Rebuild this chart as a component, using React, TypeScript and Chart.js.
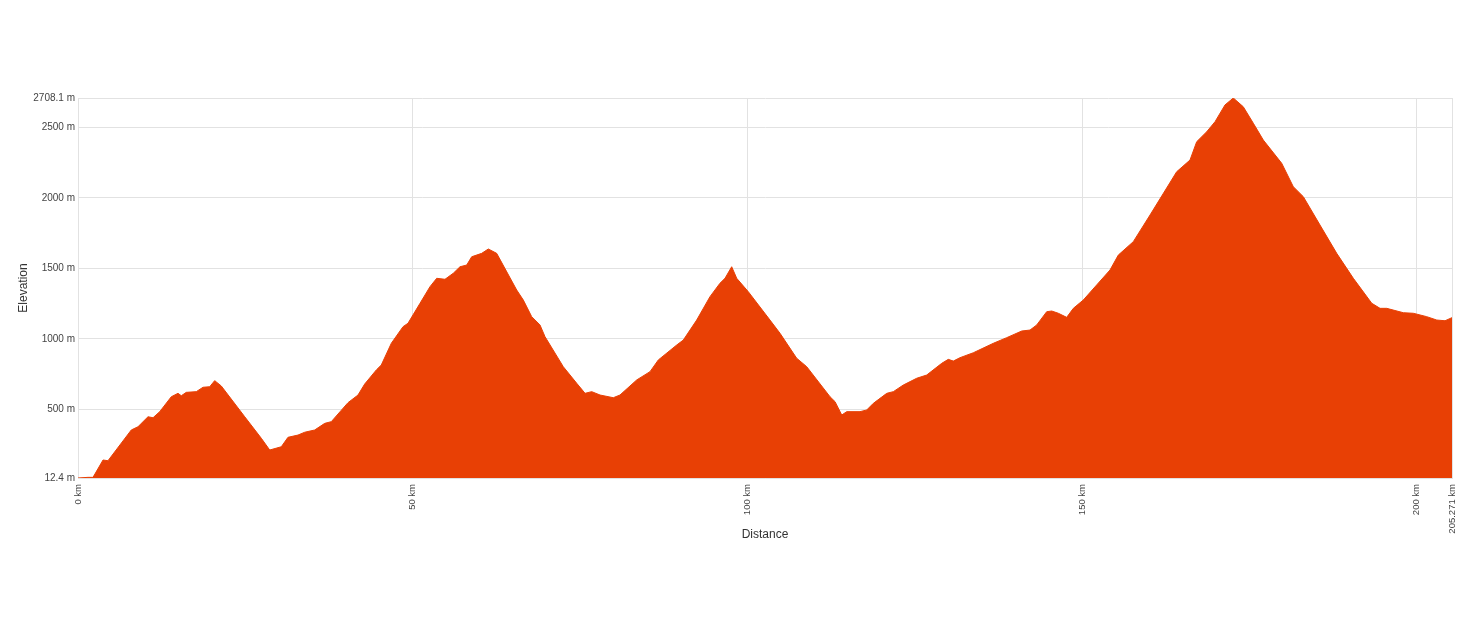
import React, { useEffect, useRef } from "react";
import { Chart, registerables } from "chart.js";

Chart.register(...registerables);

const distanceKm = [
  0, 1.49, 2.24, 3.74, 4.48, 7.96, 8.96, 10.46, 11.21, 12.21,
  13.94, 14.94, 15.43, 16.18, 17.67, 18.68, 19.68, 20.42, 21.41, 24.91,
  27.39, 28.64, 30.37, 31.37, 32.87, 33.87, 35.36, 36.86, 37.84, 40.34,
  41.83, 42.83, 44.57, 45.31, 46.81, 48.56, 49.3, 51.1, 52.59, 53.59,
  54.83, 56.07, 57.07, 58.07, 58.82, 60.31, 61.3, 62.55, 65.54, 66.53,
  67.78, 69.02, 69.77, 72.5, 74.51, 75.75, 76.75, 77.99, 79.97, 80.97,
  83.47, 85.46, 86.7, 89.45, 90.43, 92.43, 94.42, 95.91, 96.66, 97.66,
  98.41, 100.14, 103.38, 104.88, 107.37, 108.87, 112.35, 113.1, 114.1, 114.84,
  116.83, 117.83, 118.82, 120.82, 121.81, 123.3, 125.3, 126.8, 129.04, 130.02,
  130.77, 131.77, 133.76, 136.75, 138.75, 140.99, 142.23, 143.23, 144.72, 145.47,
  146.46, 147.71, 148.7, 150.19, 152.19, 154.18, 155.42, 157.66, 160.16, 164.14,
  166.13, 167.13, 168.63, 169.87, 171.36, 172.6, 174.09, 175.59, 177.08, 179.83,
  181.56, 183.06, 185.55, 188.05, 190.53, 193.28, 194.52, 195.52, 198.0, 199.49,
  201.49, 202.99, 204.23, 205.271,
];

const elevationM = [
  12.4, 17, 17, 140, 135, 353, 376, 447, 440, 483,
  589, 613, 596, 620, 625, 656, 660, 703, 665, 447,
  294, 211, 234, 301, 317, 337, 353, 400, 412, 547,
  601, 679, 779, 814, 968, 1086, 1110, 1252, 1370, 1429,
  1422, 1465, 1511, 1523, 1582, 1606, 1637, 1606, 1346, 1275,
  1157, 1098, 1015, 802, 684, 613, 625, 601, 582, 601,
  708, 767, 850, 956, 991, 1133, 1299, 1394, 1429, 1511,
  1429, 1334, 1133, 1039, 862, 802, 589, 554, 459, 483,
  483, 495, 542, 613, 625, 672, 720, 743, 826, 854,
  842, 866, 901, 968, 1008, 1055, 1062, 1098, 1192, 1197,
  1181, 1152, 1216, 1275, 1382, 1488, 1594, 1689, 1878, 2185,
  2268, 2398, 2469, 2540, 2659, 2708.1, 2646, 2529, 2410, 2245,
  2079, 2008, 1807, 1606, 1429, 1252, 1216, 1216, 1185, 1181,
  1157, 1133, 1128, 1150,
];

const xTickValues = [0, 50, 100, 150, 200, 205.271];
const yTickValues = [12.4, 500, 1000, 1500, 2000, 2500, 2708.1];
const xTitle = "Distance";
const yTitle = "Elevation";

export default function App() {
  const canvasRef = useRef<HTMLCanvasElement | null>(null);

  useEffect(() => {
    if (!canvasRef.current) return;
    const points = distanceKm.map((d, i) => ({ x: d, y: elevationM[i] }));
    const gridColor = "#e2e2e2";
    const chart = new Chart(canvasRef.current, {
      type: "line",
      data: {
        datasets: [
          {
            data: points,
            fill: "start",
            backgroundColor: "#e84005",
            borderColor: "#e84005",
            borderWidth: 1,
            pointRadius: 0,
            tension: 0,
          },
        ],
      },
      options: {
        animation: false,
        responsive: false,
        events: [],
        layout: { padding: { left: 0, top: 90, right: 22, bottom: 81 } },
        plugins: { legend: { display: false }, tooltip: { enabled: false } },
        scales: {
          x: {
            type: "linear",
            min: 0,
            max: 205.271,
            afterBuildTicks: (axis: any) => {
              axis.ticks = xTickValues.map((v) => ({ value: v }));
            },
            afterFit: (axis: any) => {
              axis.height = 68;
            },
            ticks: {
              autoSkip: false,
              minRotation: 90,
              maxRotation: 90,
              padding: 6,
              color: "#444",
              font: { family: "'Liberation Sans', Arial, sans-serif", size: 9.5 },
              callback: (v: any) => `${v} km`,
            },
            grid: { color: gridColor, drawTicks: false, lineWidth: 1 },
            border: { color: gridColor },
            title: {
              display: true,
              text: xTitle,
              color: "#333",
              padding: { top: 0, bottom: 4 },
              font: { family: "'Liberation Sans', Arial, sans-serif", size: 12 },
            },
          },
          y: {
            type: "linear",
            min: 12.4,
            max: 2708.1,
            afterBuildTicks: (axis: any) => {
              axis.ticks = yTickValues.map((v) => ({ value: v }));
            },
            afterFit: (axis: any) => {
              axis.width = 70;
            },
            ticks: {
              autoSkip: false,
              padding: 3,
              color: "#444",
              font: { family: "'Liberation Sans', Arial, sans-serif", size: 10 },
              callback: (v: any) => `${v} m`,
            },
            grid: { color: gridColor, drawTicks: false, lineWidth: 1 },
            border: { color: gridColor },
            title: {
              display: true,
              text: yTitle,
              color: "#333",
              padding: { top: 8, bottom: 0 },
              font: { family: "'Liberation Sans', Arial, sans-serif", size: 12 },
            },
          },
        },
      },
    });
    return () => chart.destroy();
  }, []);

  return (
    <div style={{ width: 1466, height: 619 }}>
      <canvas ref={canvasRef} width={1466} height={619} style={{ display: "block" }} />
    </div>
  );
}
